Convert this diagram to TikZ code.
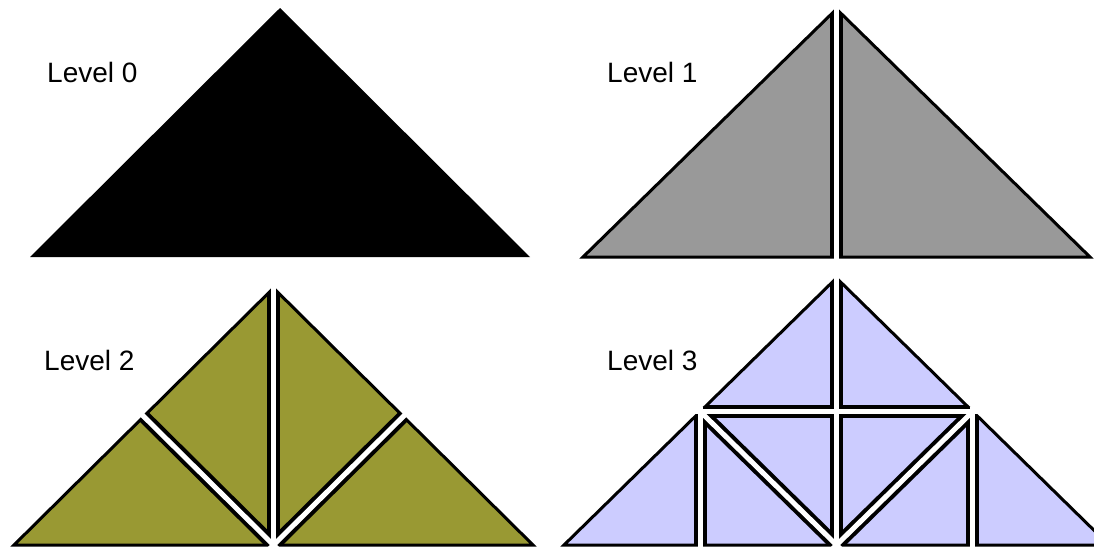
\documentclass[tikz,border=0pt]{standalone}
\usepackage{fontspec}
\setmainfont{Liberation Sans}
\definecolor{lvlone}{RGB}{153,153,153}
\definecolor{lvltwo}{RGB}{153,153,51}
\definecolor{lvlthree}{RGB}{204,204,255}
\begin{document}
\begin{tikzpicture}[x=1pt,y=-1pt,
  lbl/.style={anchor=base west, font=\fontsize{28}{30}\selectfont, inner sep=0pt},
  outline/.style={draw=black, line width=3pt, line join=miter},
  cutblack/.style={draw=black, line width=13pt},
  cutwhite/.style={draw=white, line width=5pt, shorten <=-5pt, shorten >=-5pt}]
\useasboundingbox (0,0) rectangle (1094,547);
\clip (0,0) rectangle (1094,547);

% ---------- Level 0 ----------
\coordinate (a0) at (280,8);
\coordinate (l0) at (30,257);
\coordinate (r0) at (530,257);
\fill[black] (a0) -- (l0) -- (r0) -- cycle;
\node[lbl] (t0) at (47,82) {Level 0};

% ---------- Level 1 ----------
\coordinate (a1) at (836.5,9);
\coordinate (l1) at (583,257);
\coordinate (r1) at (1090,257);
\coordinate (b1) at (836.5,257);
\fill[lvlone] (a1) -- (l1) -- (r1) -- cycle;
\begin{scope}
  \clip (a1) -- (l1) -- (r1) -- cycle;
  \draw[cutblack] (a1) -- (b1);
\end{scope}
\draw[outline] (a1) -- (l1) -- (r1) -- cycle;
\draw[cutwhite] (a1) -- (b1);
\node[lbl] (t1) at (607,82) {Level 1};

% ---------- Level 2 ----------
\coordinate (a2) at (273.5,288);
\coordinate (l2) at (14,545);
\coordinate (r2) at (533,545);
\coordinate (b2) at (273.5,545);
\coordinate (ml2) at (143.75,416.5);
\coordinate (mr2) at (403.25,416.5);
\fill[lvltwo] (a2) -- (l2) -- (r2) -- cycle;
\begin{scope}
  \clip (a2) -- (l2) -- (r2) -- cycle;
  \draw[cutblack] (a2) -- (b2);
  \draw[cutblack] (ml2) -- (b2);
  \draw[cutblack] (mr2) -- (b2);
\end{scope}
\draw[outline] (a2) -- (l2) -- (r2) -- cycle;
\draw[cutwhite] (a2) -- (b2);
\draw[cutwhite] (ml2) -- (b2);
\draw[cutwhite] (mr2) -- (b2);
\node[lbl] (t2) at (44,370) {Level 2};

% ---------- Level 3 ----------
\coordinate (a3) at (836.5,278);
\coordinate (l3) at (564,545);
\coordinate (r3) at (1109,545);
\coordinate (b3) at (836.5,545);
\coordinate (ml3) at (700.25,411.5);
\coordinate (mr3) at (972.75,411.5);
\coordinate (bl3) at (700.25,545);
\coordinate (br3) at (972.75,545);
\fill[lvlthree] (a3) -- (l3) -- (r3) -- cycle;
\begin{scope}
  \clip (a3) -- (l3) -- (r3) -- cycle;
  \draw[cutblack] (a3) -- (b3);
  \draw[cutblack] (ml3) -- (mr3);
  \draw[cutblack] (ml3) -- (b3);
  \draw[cutblack] (mr3) -- (b3);
  \draw[cutblack] (ml3) -- (bl3);
  \draw[cutblack] (mr3) -- (br3);
\end{scope}
\draw[outline] (a3) -- (l3) -- (r3) -- cycle;
\draw[cutwhite] (a3) -- (b3);
\draw[cutwhite] (ml3) -- (mr3);
\draw[cutwhite] (ml3) -- (b3);
\draw[cutwhite] (mr3) -- (b3);
\draw[cutwhite] (ml3) -- (bl3);
\draw[cutwhite] (mr3) -- (br3);
\node[lbl] (t3) at (607,370) {Level 3};
\end{tikzpicture}
\end{document}
